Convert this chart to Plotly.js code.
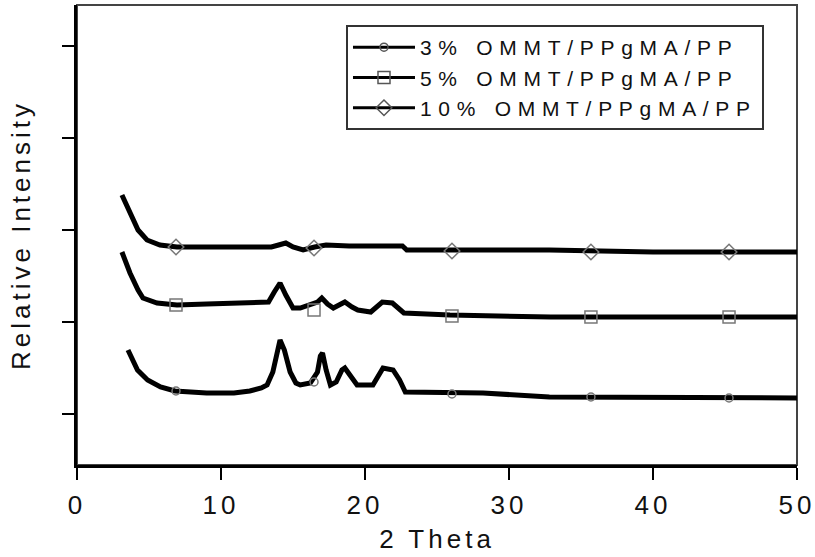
<!DOCTYPE html>
<html>
<head>
<meta charset="utf-8">
<script src="https://cdn.plot.ly/plotly-3.0.1.min.js"></script>
<style>
  html, body { margin: 0; padding: 0; background: #fff; }
  #chart { width: 815px; height: 557px; }
  svg text { letter-spacing: 4px; }
  svg text.legendtext { letter-spacing: 6.7px; }
</style>
</head>
<body>
<div id="chart"></div>
<script>
// ---- data (2 Theta vs relative intensity, arbitrary offset units) ----
const seriesNames = ["3% OMMT/PPgMA/PP", "5% OMMT/PPgMA/PP", "10% OMMT/PPgMA/PP"];

const x3 = [3.54, 3.9, 4.2, 4.9, 5.8, 6.8, 8.0, 9.0, 10.9, 12.0, 12.8, 13.2, 13.6, 13.9, 14.1, 14.4, 14.8, 15.2, 15.5, 16.2, 16.7, 16.9, 17.05, 17.3, 17.6, 18.0, 18.4, 18.6, 19.0, 19.45, 20.55, 20.9, 21.25, 21.95, 22.4, 22.8, 25.4, 28.2, 32.8, 40.0, 50.0];
const y3 = [115, 104, 95, 85, 78, 74, 73, 72, 72, 74, 77, 80, 93, 113, 125, 115, 93, 82, 80, 82, 93, 109, 112, 95, 80, 83, 95, 97, 89, 80, 80, 89, 97, 95, 85, 73, 73, 72, 68, 68, 67];

const x5 = [3.12, 3.68, 4.24, 4.58, 5.56, 6.94, 9.0, 10.9, 12.8, 13.3, 13.7, 14.1, 14.5, 15.0, 15.5, 16.2, 16.7, 17.0, 17.4, 17.8, 18.3, 18.6, 19.1, 19.5, 20.4, 20.8, 21.2, 21.9, 22.3, 22.7, 25.9, 32.9, 40.0, 50.0];
const y5 = [213, 192, 175, 167, 162, 160, 161, 162, 162, 163, 173, 182, 170, 157, 157, 160, 163, 167, 161, 157, 160, 163, 158, 155, 153, 158, 163, 162, 157, 152, 150, 148, 148, 148];

const x10 = [3.12, 3.82, 4.24, 4.86, 5.76, 6.94, 10.0, 12.0, 13.5, 14.0, 14.5, 15.0, 15.7, 16.5, 17.3, 18.9, 21.5, 22.6, 22.9, 26.0, 32.8, 40.0, 50.0];
const y10 = [270, 248, 235, 225, 220, 218, 218, 217, 218, 220, 222, 218, 215, 218, 220, 219, 219, 219, 215, 215, 215, 213, 213];

// symbol positions along each curve
const markX = [6.875, 16.46, 26.04, 35.69, 45.28];
const mark3 = [74, 83, 71, 68, 67];
const mark5 = [160, 155, 149, 148, 148];
const mark10 = [218, 217, 214, 213, 213];

const yTickVals = [51, 143, 235, 327, 419];
const xTickVals = [0, 10, 20, 30, 40, 50];

const FONT = "'Liberation Sans', Arial, sans-serif";
const symbols = ["circle-open", "square-open", "diamond-open"];
const symSizes = [8, 12, 12];
const curves = [[x3, y3, mark3], [x5, y5, mark5], [x10, y10, mark10]];

const traces = [];
// legend-only entries
seriesNames.forEach((nm, i) => {
  traces.push({
    x: [null], y: [null], name: nm, type: "scatter", mode: "lines+markers",
    line: {color: "#000", width: 3},
    marker: {symbol: symbols[i], size: symSizes[i], color: "#555", line: {width: 1.5, color: "#555"}},
    showlegend: true, hoverinfo: "skip"
  });
});
// curves
curves.forEach((c, i) => {
  traces.push({
    x: c[0], y: c[1], type: "scatter", mode: "lines", name: seriesNames[i],
    line: {color: "#000", width: 5, shape: "linear"},
    showlegend: false
  });
});
// symbols along curves
curves.forEach((c, i) => {
  traces.push({
    x: markX, y: c[2], type: "scatter", mode: "markers", name: seriesNames[i],
    marker: {symbol: symbols[i], size: symSizes[i], color: "#777", line: {width: 1.5, color: "#777"}},
    showlegend: false
  });
});

const layout = {
  width: 815, height: 557,
  paper_bgcolor: "#fff", plot_bgcolor: "#fff",
  margin: {l: 77, r: 18, t: 5, b: 92, pad: 0},
  font: {family: FONT, size: 26, color: "#111"},
  showlegend: true,
  legend: {
    x: 0.3736, y: 0.9565, xanchor: "left", yanchor: "top",
    bgcolor: "#fff", bordercolor: "#333", borderwidth: 2,
    font: {family: FONT, size: 21, color: "#111"},
    itemwidth: 62, tracegroupgap: 0
  },
  xaxis: {
    range: [0, 50], tickvals: xTickVals, ticktext: xTickVals.map(String),
    ticks: "outside", ticklen: 12, tickwidth: 2, tickcolor: "#000",
    ticklabelstandoff: 3, ticklabeloverflow: "allow",
    showline: true, linewidth: 3, linecolor: "#000", mirror: false,
    showgrid: false, zeroline: false,
    tickfont: {family: FONT, size: 26, color: "#111"},
    title: {text: "2 Theta", font: {family: FONT, size: 26, color: "#111"}, standoff: 11}
  },
  yaxis: {
    range: [0, 460], tickvals: yTickVals, showticklabels: false,
    ticks: "outside", ticklen: 12, tickwidth: 2, tickcolor: "#000",
    showline: true, linewidth: 3, linecolor: "#000", mirror: false,
    showgrid: false, zeroline: false,
    title: {text: "Relative Intensity", font: {family: FONT, size: 26, color: "#111"}, standoff: 24}
  },
  shapes: [{
    type: "rect", xref: "paper", yref: "paper", x0: 0, x1: 1, y0: 0, y1: 1,
    line: {color: "#444", width: 2}, layer: "below"
  }]
};

Plotly.newPlot("chart", traces, layout, {staticPlot: true, displayModeBar: false});
</script>
</body>
</html>
